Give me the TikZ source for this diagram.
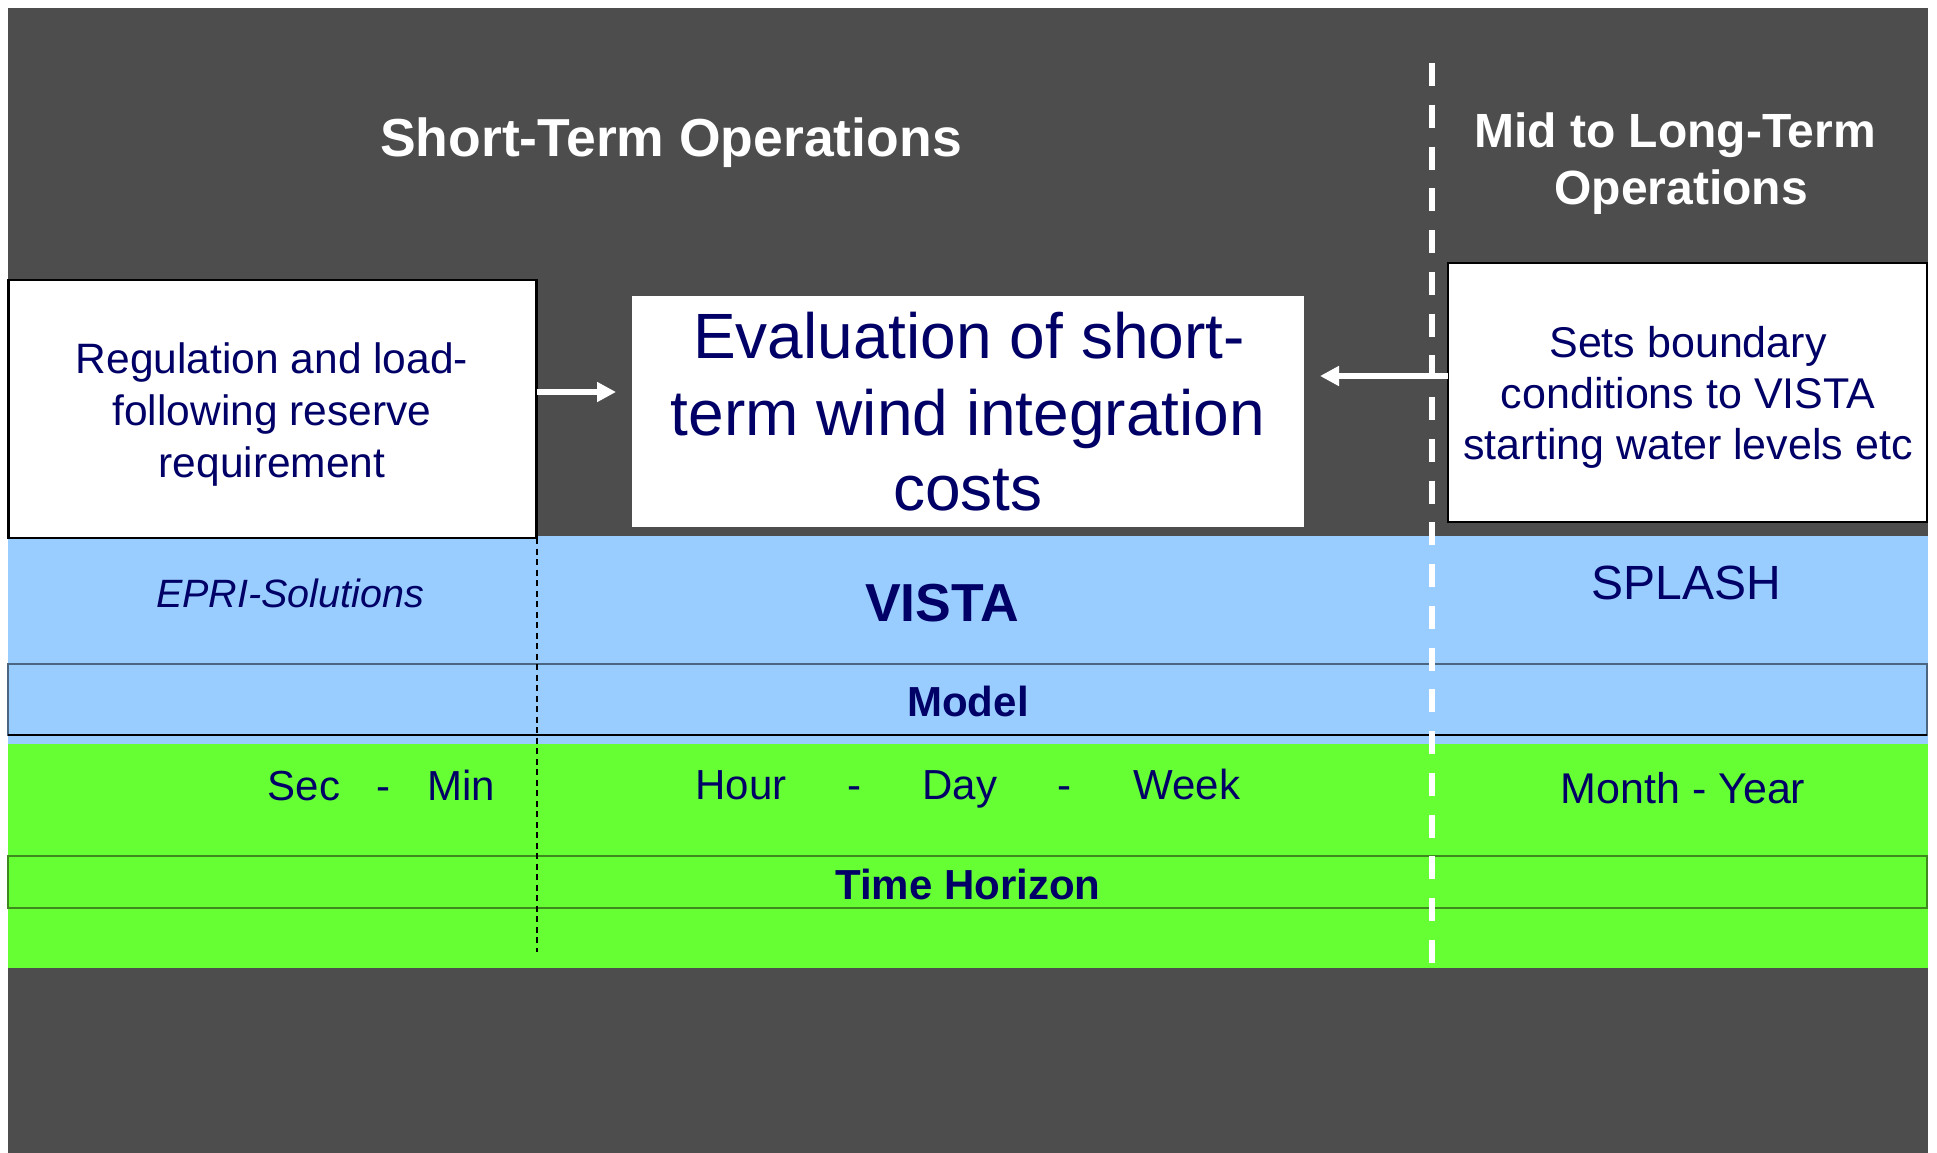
\documentclass[tikz,border=0pt]{standalone}
\usepackage{fontspec}
\setmainfont{Liberation Sans}
\usetikzlibrary{arrows.meta}
\definecolor{bgdark}{HTML}{4D4D4D}
\definecolor{bandblue}{HTML}{99CCFF}
\definecolor{bandgreen}{HTML}{66FF33}
\definecolor{navy}{HTML}{000066}
\definecolor{slateline}{HTML}{4A6680}
\definecolor{greenline}{HTML}{3F8A1F}
\newcommand{\fsz}[1]{\fontsize{#1}{#1}\selectfont}
\begin{document}
\begin{tikzpicture}[x=1pt,y=-1pt,
  every node/.style={inner sep=0pt,outer sep=0pt},
  txt/.style={text=navy,anchor=base},
  head/.style={text=white,anchor=base,font={\fsz{#1}\bfseries}},
  boxnode/.style={draw=black,line width=2.5pt,fill=white,anchor=north west},
  arr/.style={draw=white,line width=6.5pt,-{Triangle[length=19pt,width=19pt]}}]
\useasboundingbox (0,0) rectangle (1937,1153);
\fill[white] (0,0) rectangle (1937,1153);
\fill[bgdark] (8,8) rectangle (1928,1153);
% bands
\fill[bandblue] (8,536) rectangle (1928,744);
\draw[slateline,line width=1.5pt] (8,664) rectangle (1927,735);
\draw[black,line width=1.5pt] (8,735) -- (1927,735);
\fill[bandgreen] (8,744) rectangle (1928,968);
\draw[greenline,line width=1.5pt] (8,856) rectangle (1927,908);
% boxes
\node[boxnode,minimum width=528pt,minimum height=258pt] (lbox) at (8.5,280) {};
\node[fill=white,anchor=north west,minimum width=672pt,minimum height=231pt] (cbox) at (632,296) {};
\node[boxnode,minimum width=479pt,minimum height=259pt] (rbox) at (1448,263) {};
% connectors
\draw[arr] (lbox.east |- 0,392) -- ([xshift=-16pt]cbox.west |- 0,392);
\draw[arr] (rbox.west |- 0,376) -- ([xshift=16pt]cbox.east |- 0,376);
% dividers
\coordinate (dtop) at (lbox.south east);
\coordinate (dbot) at (536.5,952);
\draw[black,line width=2pt,dash pattern=on 6pt off 4.5pt] (dtop) -- (dbot);
\coordinate (wtop) at (1432,63);
\coordinate (wbot) at (1432,968);
\draw[white,line width=5.5pt,dash pattern=on 23pt off 18.75pt] (wtop) -- (wbot);
% headings
\node[head=53.5] (h1) at (671,157) {Short-Term Operations};
\node[head=48] (h2a) at (1675,147) {Mid to Long-Term};
\node[head=48] (h2b) at (1681,204) {Operations};
% left box text
\node[txt,font=\fsz{42.5}] (l1) at (272,373) {Regulation and load-};
\node[txt,font=\fsz{42.5}] (l2) at (272,425) {following reserve};
\node[txt,font=\fsz{42.5}] (l3) at (272,477) {requirement};
% centre box text
\node[txt,font=\fsz{64}] (c1) at (969,358) {Evaluation of short-};
\node[txt,font=\fsz{64}] (c2) at (968,435) {term wind integration};
\node[txt,font=\fsz{64}] (c3) at (968,510) {costs};
% right box text
\node[txt,font=\fsz{43}] (r1) at (1688,357) {Sets boundary};
\node[txt,font=\fsz{43}] (r2) at (1688,408) {conditions to VISTA};
\node[txt,font=\fsz{43}] (r3) at (1688,459) {starting water levels etc};
% model band
\node[txt,font={\fsz{39.5}\itshape}] (epri) at (290,607) {EPRI-Solutions};
\node[txt,font={\fsz{53.5}\bfseries}] (vista) at (942,621) {VISTA};
\node[txt,font=\fsz{48}] (splash) at (1686,599) {SPLASH};
\node[txt,font={\fsz{42}\bfseries}] (model) at (968,716) {Model};
% time band
\node[txt,font=\fsz{42}] (sec) at (304,800) {Sec};
\node[txt,font=\fsz{42}] (d1) at (383.5,800) {-};
\node[txt,font=\fsz{42}] (min) at (461,800) {Min};
\node[txt,font=\fsz{42}] (hour) at (741,799) {Hour};
\node[txt,font=\fsz{42}] (d2) at (854.5,799) {-};
\node[txt,font=\fsz{42}] (day) at (960,799) {Day};
\node[txt,font=\fsz{42}] (d3) at (1064.5,799) {-};
\node[txt,font=\fsz{42}] (week) at (1187,799) {Week};
\node[txt,font=\fsz{43}] (my) at (1683,803) {Month - Year};
\node[txt,font={\fsz{42}\bfseries}] (th) at (968,899) {Time Horizon};
\end{tikzpicture}
\end{document}
